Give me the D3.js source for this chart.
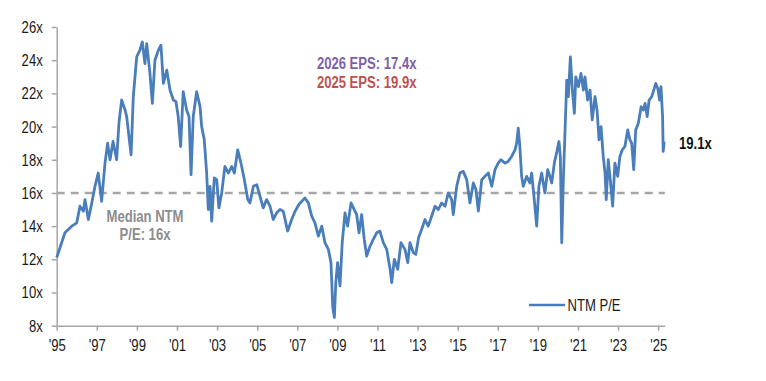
<!DOCTYPE html>
<meta charset="utf-8">
<style>
  body { margin: 0; background: #fff; }
  svg text { font-family: "Liberation Sans", Arial, sans-serif; }
  .axis path, .axis line { stroke: #a6a6a6; stroke-width: 1.5; }
  .axis text { fill: #1a1a1a; font-size: 17px; }
</style>
<script src="https://d3js.org/d3.v7.min.js"></script>
<svg id="chart" width="766" height="381"></svg>
<script>

// decimal years and NTM P/E
var years = [
  1995.0, 1995.41, 1995.75, 1996.0, 1996.16, 1996.33, 1996.41, 1996.58, 1996.75, 1996.91,
  1997.07, 1997.24, 1997.41, 1997.54, 1997.66, 1997.81, 1997.99, 1998.11, 1998.24, 1998.41,
  1998.49, 1998.71, 1998.82, 1998.99, 1999.15, 1999.27, 1999.40, 1999.49, 1999.65, 1999.77,
  1999.90, 2000.07, 2000.20, 2000.32, 2000.49, 2000.65, 2000.82, 2000.95, 2001.06, 2001.18,
  2001.31, 2001.48, 2001.60, 2001.70, 2001.81, 2001.98, 2002.15, 2002.23, 2002.36, 2002.48,
  2002.56, 2002.65, 2002.73, 2002.86, 2002.98, 2003.09, 2003.23, 2003.39, 2003.56, 2003.73,
  2003.86, 2004.03, 2004.19, 2004.36, 2004.53, 2004.64, 2004.81, 2004.98, 2005.14, 2005.30,
  2005.47, 2005.64, 2005.80, 2005.97, 2006.14, 2006.30, 2006.52, 2006.72, 2006.89, 2007.08,
  2007.38, 2007.55, 2007.72, 2007.88, 2008.05, 2008.22, 2008.38, 2008.55, 2008.68, 2008.77,
  2008.85, 2008.92, 2009.01, 2009.13, 2009.24, 2009.38, 2009.51, 2009.68, 2009.84, 2009.96,
  2010.08, 2010.21, 2010.34, 2010.46, 2010.63, 2010.79, 2010.96, 2011.12, 2011.29, 2011.46,
  2011.63, 2011.71, 2011.84, 2012.01, 2012.17, 2012.37, 2012.51, 2012.62, 2012.79, 2012.91,
  2013.05, 2013.20, 2013.37, 2013.53, 2013.70, 2013.87, 2014.03, 2014.20, 2014.37, 2014.53,
  2014.70, 2014.78, 2014.95, 2015.11, 2015.28, 2015.45, 2015.61, 2015.78, 2015.91, 2016.03,
  2016.20, 2016.36, 2016.53, 2016.70, 2016.86, 2017.02, 2017.16, 2017.36, 2017.52, 2017.69,
  2017.86, 2017.94, 2018.02, 2018.10, 2018.19, 2018.27, 2018.44, 2018.60, 2018.69, 2018.82,
  2018.94, 2019.05, 2019.19, 2019.35, 2019.49, 2019.60, 2019.69, 2019.82, 2019.93, 2020.05,
  2020.12, 2020.19, 2020.27, 2020.35, 2020.44, 2020.52, 2020.62, 2020.72, 2020.82, 2020.89,
  2021.02, 2021.15, 2021.27, 2021.35, 2021.48, 2021.60, 2021.71, 2021.85, 2021.95, 2022.05,
  2022.15, 2022.26, 2022.35, 2022.41, 2022.51, 2022.61, 2022.73, 2022.84, 2022.98, 2023.09,
  2023.21, 2023.34, 2023.48, 2023.59, 2023.68, 2023.78, 2023.88, 2024.01, 2024.15, 2024.26,
  2024.35, 2024.45, 2024.55, 2024.68, 2024.78, 2024.88, 2024.98, 2025.07, 2025.14, 2025.22,
  2025.25, 2025.30
];

var pe = [
  12.1, 13.6, 14.0, 14.2, 15.2, 14.9, 15.6, 14.4, 15.4, 16.4,
  17.2, 15.5, 17.8, 19.0, 18.0, 19.1, 18.0, 20.3, 21.6, 21.0,
  20.6, 18.3, 21.8, 24.2, 24.6, 25.1, 23.8, 25.0, 23.2, 21.4,
  24.0, 24.6, 24.9, 22.6, 23.4, 22.2, 21.6, 21.5, 20.6, 18.8,
  22.1, 21.0, 20.6, 17.1, 20.6, 22.1, 21.2, 20.0, 19.2, 17.2,
  15.0, 16.4, 14.3, 16.9, 16.8, 15.1, 16.0, 17.6, 17.2, 17.6,
  17.2, 18.6, 17.8, 16.8, 15.6, 15.4, 16.4, 16.5, 15.8, 15.1,
  15.6, 15.2, 14.4, 14.8, 15.0, 14.9, 13.7, 14.4, 14.9, 15.3,
  15.7, 15.4, 14.6, 14.2, 13.4, 14.0, 13.0, 12.6, 11.8, 9.1,
  8.5, 10.6, 11.8, 10.4, 13.0, 14.8, 14.0, 15.4, 15.0, 14.7,
  13.6, 14.7, 13.2, 12.2, 12.8, 13.2, 13.6, 13.7, 13.0, 12.6,
  11.4, 10.6, 12.0, 11.4, 13.0, 12.6, 11.8, 13.0, 12.4, 12.3,
  13.3, 13.8, 14.4, 14.0, 14.6, 15.2, 15.0, 15.4, 15.2, 16.0,
  15.6, 14.7, 16.4, 17.2, 17.3, 16.8, 15.4, 16.6, 16.2, 14.9,
  16.8, 17.0, 17.2, 16.4, 17.4, 17.8, 18.0, 17.8, 17.9, 18.2,
  18.6, 19.0, 19.9, 18.8, 17.0, 16.4, 17.0, 16.6, 17.2, 15.6,
  14.0, 16.4, 17.2, 16.0, 17.4, 17.0, 16.6, 17.8, 18.4, 19.1,
  18.2, 13.0, 16.8, 19.6, 22.8, 21.8, 24.2, 22.2, 20.8, 23.0,
  22.4, 23.2, 22.2, 23.0, 21.6, 22.2, 20.4, 21.8, 21.0, 19.2,
  20.0, 18.2, 17.2, 15.6, 18.0, 16.8, 15.2, 17.8, 17.0, 18.2,
  18.6, 18.8, 19.8, 19.2, 19.0, 17.4, 19.8, 20.2, 21.2, 21.0,
  21.4, 20.6, 21.6, 21.8, 22.2, 22.6, 22.3, 21.6, 22.4, 20.6,
  18.5, 19.1
];

var yTicks = [8, 10, 12, 14, 16, 18, 20, 22, 24, 26];
var xTicks = [1995, 1997, 1999, 2001, 2003, 2005, 2007, 2009, 2011, 2013, 2015, 2017, 2019, 2021, 2023, 2025];
var median = 16;
var lastLabel = "19.1x";
var epsLabels = ["2026 EPS: 17.4x", "2025 EPS: 19.9x"];
var medianLabel = ["Median NTM", "P/E: 16x"];
var seriesName = "NTM P/E";

var svg = d3.select("#chart");

var x = d3.scaleLinear()
  .domain([1995, 2025.33])
  .range([56.7, 664.8]);

var y = d3.scaleLinear()
  .domain([8, 26])
  .range([325.7, 27]);

svg.append("g")
  .attr("class", "axis")
  .attr("transform", "translate(56.7,0)")
  .call(d3.axisLeft(y).tickValues(yTicks).tickSize(5).tickSizeOuter(0).tickPadding(9)
    .tickFormat(function(d) { return d + "x"; }));

svg.append("g")
  .attr("class", "axis")
  .attr("transform", "translate(0,325.7)")
  .call(d3.axisBottom(x).tickValues(xTicks).tickSize(5).tickSizeOuter(0).tickPadding(8)
    .tickFormat(function(d) { return "'" + String(d).slice(2); }));

// median dashed line
svg.append("line")
  .attr("x1", x(1995)).attr("x2", x(2025.33))
  .attr("y1", y(median)).attr("y2", y(median))
  .attr("stroke", "#a6a6a6")
  .attr("stroke-width", 2.5)
  .attr("stroke-dasharray", "8,6");

var data = years.map(function(d, i) { return [d, pe[i]]; });

svg.append("path")
  .datum(data)
  .attr("fill", "none")
  .attr("stroke", "#4a7ebb")
  .attr("stroke-width", 2.8)
  .attr("stroke-linejoin", "round")
  .attr("d", d3.line()
    .x(function(d) { return x(d[0]); })
    .y(function(d) { return y(d[1]); }));

// labels
svg.selectAll(".med")
  .data(medianLabel)
  .enter().append("text")
  .attr("x", 145)
  .attr("y", function(d, i) { return 222 + i * 18; })
  .attr("text-anchor", "middle")
  .attr("font-size", 17)
  .attr("font-weight", "bold")
  .attr("fill", "#8c8c8c")
  .text(function(d) { return d; });

svg.selectAll(".eps")
  .data(epsLabels)
  .enter().append("text")
  .attr("x", 366.7)
  .attr("y", function(d, i) { return 69 + i * 19; })
  .attr("text-anchor", "middle")
  .attr("font-size", 17)
  .attr("font-weight", "bold")
  .attr("fill", function(d, i) { return i === 0 ? "#7f5fa8" : "#c0504d"; })
  .text(function(d) { return d; });

svg.append("text")
  .attr("x", 679)
  .attr("y", 149)
  .attr("font-size", 17)
  .attr("font-weight", "bold")
  .attr("fill", "#111")
  .text(lastLabel);

// legend
svg.append("line")
  .attr("x1", 529).attr("x2", 565)
  .attr("y1", 305).attr("y2", 305)
  .attr("stroke", "#4a7ebb")
  .attr("stroke-width", 2.5);

svg.append("text")
  .attr("x", 567.5)
  .attr("y", 311)
  .attr("font-size", 17)
  .attr("fill", "#1a1a1a")
  .text(seriesName);

// no narrow font installed: squeeze every text horizontally around its anchor
svg.selectAll("text").each(function() {
  var t = d3.select(this);
  var tx = +t.attr("x") || 0;
  t.attr("transform", "translate(" + tx + ",0) scale(0.77,1) translate(" + (-tx) + ",0)");
});

</script>
